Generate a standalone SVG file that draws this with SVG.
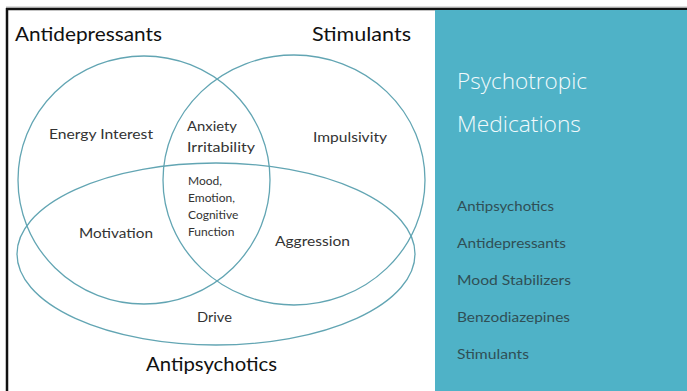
<svg xmlns="http://www.w3.org/2000/svg" width="687" height="391" viewBox="0 0 687 391">
<style>
.set{fill:none;stroke:#62a5b3;stroke-width:1.3}
.title{font-family:Lato,"Liberation Sans",sans-serif;font-size:20px;fill:#111}
.lbl{font-family:Lato,"Liberation Sans",sans-serif;font-size:14px;fill:#333}
.sm{font-family:Lato,"Liberation Sans",sans-serif;font-size:12px;fill:#333}
.head{font-family:"Open Sans","Liberation Sans",sans-serif;font-weight:300;font-size:22px;fill:#f2fafc}
.item{font-family:Lato,"Liberation Sans",sans-serif;font-size:14px;fill:#2f4f55}
</style>
<rect x="0" y="0" width="687" height="391" fill="#fff"/>
<line x1="6" y1="7" x2="687" y2="7" stroke="#bbb" stroke-width="1"/>
<line x1="6" y1="9" x2="687" y2="9" stroke="#111" stroke-width="2.5"/>
<line x1="7" y1="8" x2="7" y2="391" stroke="#111" stroke-width="2.5"/>
<rect id="panel" x="435" y="10" width="252" height="381" fill="#4fb2c7"/>
<g id="sets">
<ellipse id="antidepressants" class="set" cx="144" cy="180" rx="126" ry="124"/>
<ellipse id="stimulants" class="set" cx="294" cy="180" rx="131" ry="125"/>
<ellipse id="antipsychotics" class="set" cx="216" cy="254" rx="199" ry="91"/>
</g>
<g id="set-titles">
<text class="title" x="15" y="41" textLength="147" lengthAdjust="spacingAndGlyphs">Antidepressants</text>
<text class="title" x="312" y="41" textLength="99" lengthAdjust="spacingAndGlyphs">Stimulants</text>
<text class="title" x="146" y="371" textLength="131" lengthAdjust="spacingAndGlyphs">Antipsychotics</text>
</g>
<g id="regions">
<text class="lbl" x="49" y="139" textLength="104" lengthAdjust="spacingAndGlyphs">Energy Interest</text>
<text class="lbl" x="187" y="131" textLength="50" lengthAdjust="spacingAndGlyphs">Anxiety</text>
<text class="lbl" x="187" y="152" textLength="68" lengthAdjust="spacingAndGlyphs">Irritability</text>
<text class="lbl" x="313" y="142" textLength="74" lengthAdjust="spacingAndGlyphs">Impulsivity</text>
<text class="sm" x="188" y="185">Mood,</text>
<text class="sm" x="188" y="202">Emotion,</text>
<text class="sm" x="188" y="219">Cognitive</text>
<text class="sm" x="188" y="236">Function</text>
<text class="lbl" x="79" y="238" textLength="74" lengthAdjust="spacingAndGlyphs">Motivation</text>
<text class="lbl" x="275" y="246" textLength="75" lengthAdjust="spacingAndGlyphs">Aggression</text>
<text class="lbl" x="197" y="322" textLength="35" lengthAdjust="spacingAndGlyphs">Drive</text>
</g>
<g id="legend">
<text class="head" x="457" y="89" textLength="130" lengthAdjust="spacingAndGlyphs">Psychotropic</text>
<text class="head" x="457" y="132" textLength="124" lengthAdjust="spacingAndGlyphs">Medications</text>
<text class="item" x="457" y="211" textLength="97" lengthAdjust="spacingAndGlyphs">Antipsychotics</text>
<text class="item" x="457" y="248" textLength="109" lengthAdjust="spacingAndGlyphs">Antidepressants</text>
<text class="item" x="457" y="285" textLength="114" lengthAdjust="spacingAndGlyphs">Mood Stabilizers</text>
<text class="item" x="457" y="322" textLength="113" lengthAdjust="spacingAndGlyphs">Benzodiazepines</text>
<text class="item" x="457" y="359" textLength="72" lengthAdjust="spacingAndGlyphs">Stimulants</text>
</g>
</svg>
